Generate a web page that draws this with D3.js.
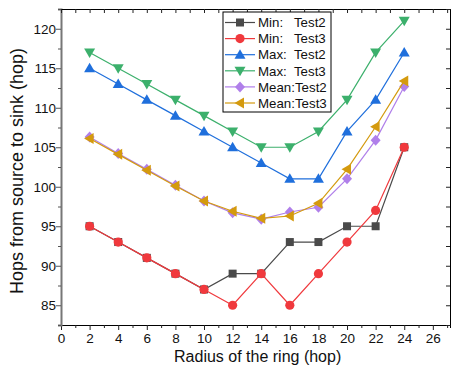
<!DOCTYPE html>
<html>
<head>
<meta charset="utf-8">
<script src="https://cdn.jsdelivr.net/npm/d3@7"></script>
<style>
  body { margin: 0; background: #fff; }
  text { font-family: Arial, "Liberation Sans", sans-serif; fill: #111; }
</style>
</head>
<body>
<svg id="chart" width="452" height="377"></svg>
<script>
// radius values (x)
var radius = [2, 4, 6, 8, 10, 12, 14, 16, 18, 20, 22, 24];

var minTest2  = [95, 93, 91, 89, 87, 89, 89, 93, 93, 95, 95, 105];
var minTest3  = [95, 93, 91, 89, 87, 85, 89, 85, 89, 93, 97, 105];
var maxTest2  = [115, 113, 111, 109, 107, 105, 103, 101, 101, 107, 111, 117];
var maxTest3  = [117, 115, 113, 111, 109, 107, 105, 105, 107, 111, 117, 121];
var meanTest2 = [106.3, 104.2, 102.2, 100.2, 98.2, 96.7, 95.9, 96.8, 97.4, 101.0, 105.9, 112.7];
var meanTest3 = [106.1, 104.1, 102.1, 100.1, 98.2, 96.9, 96.0, 96.3, 97.9, 102.2, 107.6, 113.4];

var seriesNames = ["Min:   Test2", "Min:   Test3", "Max:  Test2", "Max:  Test3", "Mean:Test2", "Mean:Test3"];

var series = [
  {name: seriesNames[0], values: minTest2,  color: "#4a4a4a", sym: "square"},
  {name: seriesNames[1], values: minTest3,  color: "#f0393d", sym: "circle"},
  {name: seriesNames[2], values: maxTest2,  color: "#1f6fdc", sym: "up"},
  {name: seriesNames[3], values: maxTest3,  color: "#3cb06c", sym: "down"},
  {name: seriesNames[4], values: meanTest2, color: "#b07fea", sym: "diamond"},
  {name: seriesNames[5], values: meanTest3, color: "#d49a0e", sym: "left"}
];

var svg = d3.select("#chart"),
    margin = {top: 9, right: 2, bottom: 52, left: 61},
    width = +svg.attr("width") - margin.left - margin.right,
    height = +svg.attr("height") - margin.top - margin.bottom;

var g = svg.append("g").attr("transform", "translate(" + margin.left + "," + margin.top + ")");

var x = d3.scaleLinear().domain([0, 27.2]).range([0, width]);
var y = d3.scaleLinear().domain([82.5, 122.5]).range([height, 0]);

// marker shapes
function marker(sel, sym, color) {
  if (sym == "circle") {
    sel.append("circle").attr("r", 4.6).attr("fill", color);
  } else if (sym == "square") {
    sel.append("rect").attr("x", -4).attr("y", -4).attr("width", 8).attr("height", 8).attr("fill", color);
  } else {
    var pts;
    if (sym == "up") pts = "0,-5.5 5.5,4 -5.5,4";
    if (sym == "down") pts = "0,5.5 5.5,-4 -5.5,-4";
    if (sym == "left") pts = "-5.5,0 4,-5.5 4,5.5";
    if (sym == "diamond") pts = "0,-5.5 5,0 0,5.5 -5,0";
    sel.append("polygon").attr("points", pts).attr("fill", color);
  }
}

// axes
var xMinor = d3.range(0, 28, 1),
    yMinor = d3.range(82.5, 122.6, 2.5);

var bottomAx = g.append("g").attr("transform", "translate(0," + height + ")");
bottomAx.call(d3.axisBottom(x).tickValues(xMinor).tickSize(3).tickFormat(""));
bottomAx.selectAll(".tick line").filter(function(d) { return d % 2 == 0; }).attr("y2", 5);
bottomAx.selectAll(".tick").filter(function(d) { return d % 2 == 0; }).append("text")
  .attr("y", 18).attr("text-anchor", "middle").style("font-size", "13.5px")
  .text(function(d) { return d; });
bottomAx.select(".domain").attr("stroke", "#000").attr("stroke-width", 1);

var leftAx = g.append("g");
leftAx.call(d3.axisLeft(y).tickValues(yMinor).tickSize(3).tickFormat(""));
leftAx.selectAll(".tick line").filter(function(d) { return d % 5 == 0; }).attr("x2", -5);
leftAx.selectAll(".tick").filter(function(d) { return d % 5 == 0; }).append("text")
  .attr("x", -5).attr("dy", "0.35em").attr("text-anchor", "end").style("font-size", "13.5px")
  .text(function(d) { return d; });

var topAx = g.append("g");
topAx.call(d3.axisTop(x).tickValues(xMinor).tickSize(-4).tickFormat(""));
topAx.select(".domain").attr("stroke", "#000");

var rightAx = g.append("g").attr("transform", "translate(" + width + ",0)");
rightAx.call(d3.axisRight(y).tickValues(yMinor).tickSize(-4).tickFormat(""));
rightAx.select(".domain").attr("stroke", "#000");

svg.selectAll(".tick line").attr("stroke", "#222");
leftAx.selectAll(".tick line").attr("stroke", "#555");
leftAx.select(".domain").attr("stroke", "#777").attr("stroke-width", 2);

// titles
svg.append("text")
  .attr("x", margin.left + x(13.75)).attr("y", 362)
  .attr("text-anchor", "middle").style("font-size", "16px")
  .text("Radius of the ring (hop)");
svg.append("text")
  .attr("transform", "translate(23," + (margin.top + y(102)) + ") rotate(-90)")
  .attr("text-anchor", "middle").style("font-size", "18px")
  .text("Hops from source to sink (hop)");

// lines + markers
var line = d3.line()
  .x(function(d, i) { return x(radius[i]); })
  .y(function(d) { return y(d); });

series.forEach(function(s) {
  g.append("path")
    .attr("d", line(s.values))
    .attr("fill", "none")
    .attr("stroke", s.color)
    .attr("stroke-width", 1.2);
  s.values.forEach(function(v, i) {
    var m = g.append("g").attr("transform", "translate(" + x(radius[i]) + "," + y(v) + ")");
    marker(m, s.sym, s.color);
  });
});

// legend
var lg = svg.append("g").attr("transform", "translate(223,12)");
lg.append("rect").attr("width", 108).attr("height", 100)
  .attr("fill", "#fff").attr("stroke", "#000").attr("stroke-width", 1);
series.forEach(function(s, i) {
  var row = lg.append("g").attr("transform", "translate(0," + (10.5 + i * 16.1) + ")");
  row.append("line").attr("x1", 2).attr("x2", 32).attr("stroke", s.color).attr("stroke-width", 1.2);
  var m = row.append("g").attr("transform", "translate(17,0)");
  marker(m, s.sym, s.color);
  row.append("text").attr("x", 35).attr("dy", "0.36em")
    .style("font-size", "13.3px").style("white-space", "pre")
    .text(s.name);
});
</script>
</body>
</html>
